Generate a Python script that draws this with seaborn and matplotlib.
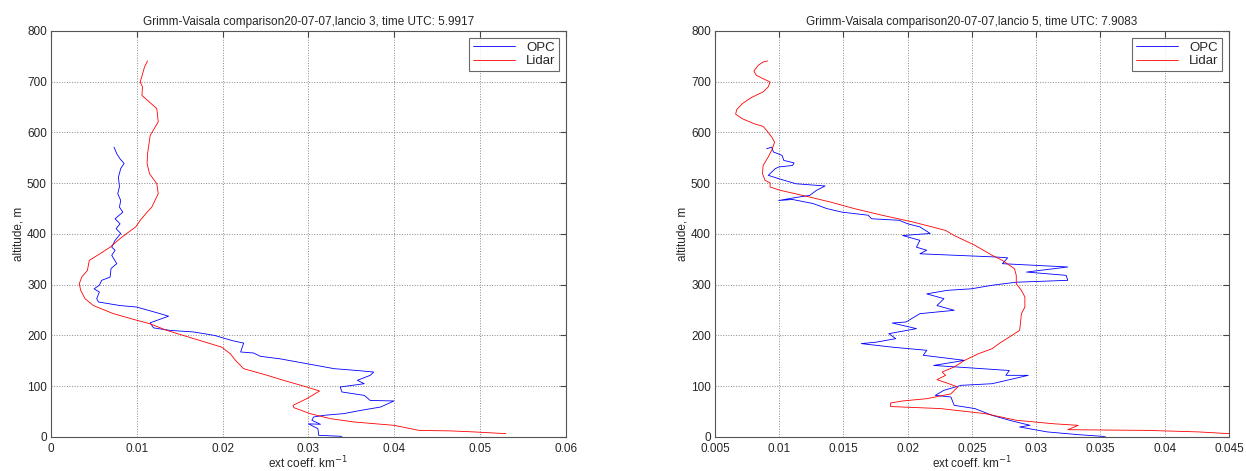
import matplotlib
matplotlib.use("Agg")
import matplotlib.pyplot as plt
import seaborn as sns
import pandas as pd

# launch 3 (left panel)
alt_lidar_3 = [741, 729, 699.5, 690, 673, 647, 621, 594, 558, 539, 519, 499, 479.5, 453, 443, 427,
               414, 401, 391, 374, 361, 348, 328, 315, 302, 289, 272.6, 259, 243, 230, 223, 210,
               194, 177, 164, 151, 134.6, 121.5, 111.7, 98.5, 90.6, 75.5, 62.4, 57.8, 46, 36,
               29.6, 23, 16.4, 13, 12, 10, 6.6]
ext_lidar_3 = [0.01125, 0.0109, 0.0104, 0.01066, 0.0106, 0.01233, 0.0125, 0.01156, 0.01125, 0.0112,
               0.01148, 0.01233, 0.0125, 0.01175, 0.0112, 0.0104, 0.00988, 0.00883, 0.00805, 0.00689,
               0.0057, 0.00447, 0.00424, 0.00358, 0.0033, 0.00346, 0.00397, 0.00494, 0.00728, 0.01,
               0.01156, 0.0135, 0.0166, 0.0199, 0.0209, 0.0215, 0.02245, 0.0252, 0.0271, 0.0298,
               0.0313, 0.0298, 0.0282, 0.0283, 0.0302, 0.0326, 0.0353, 0.03996, 0.0419, 0.0429,
               0.0466, 0.0493, 0.053]
alt_opc_3 = [571, 558, 548, 539, 529, 512, 493, 479.5, 466, 453, 443, 430, 420, 410.5, 401, 387.5,
             374, 368, 358, 341.5, 332, 315, 308.7, 299, 292, 285.7, 272.6, 266, 259, 256, 243,
             238, 225, 215, 210, 207, 200, 190, 185, 167.5, 165.5, 159, 154, 144.5, 134.6, 131,
             128, 121.5, 111.7, 105, 98.5, 88.7, 82, 72, 71, 59, 52.5, 46, 42.7, 39.4, 33, 25,
             26, 16.4, 3.3, 1.3]
ext_opc_3 = [0.00735, 0.00767, 0.00805, 0.00852, 0.00813, 0.00786, 0.00798, 0.00778, 0.00813,
             0.00798, 0.00837, 0.00747, 0.00805, 0.00759, 0.00813, 0.00747, 0.00708, 0.00747,
             0.00708, 0.00767, 0.007, 0.00689, 0.00591, 0.00564, 0.00502, 0.00564, 0.00533,
             0.00553, 0.00805, 0.01, 0.01272, 0.0137, 0.01156, 0.01195, 0.0139, 0.0166, 0.0191,
             0.0211, 0.02245, 0.0221, 0.0236, 0.0244, 0.0267, 0.0298, 0.033, 0.0357, 0.0376,
             0.0372, 0.0357, 0.0365, 0.0337, 0.0339, 0.0365, 0.0372, 0.03996, 0.0384, 0.0361,
             0.0341, 0.0318, 0.0306, 0.0304, 0.0314, 0.03, 0.0311, 0.0312, 0.0339]

# launch 5 (right panel)
alt_lidar_5 = [741, 739, 732, 721, 712.6, 706, 699.5, 690, 680, 668.6, 657, 645, 636, 627, 617, 612,
               604, 591, 581, 565, 552, 535, 519, 506, 500.5, 492.6, 486, 476, 463, 450, 437,
               423.6, 415, 407, 397, 377.7, 358, 348, 331.7, 318.5, 302, 289, 276, 256, 243, 223,
               210, 197, 184, 174, 164, 151, 138, 128, 121.5, 113, 106, 98.5, 85, 75.5, 71, 67,
               60, 56, 46, 33, 26, 23, 14.4, 13, 10, 6.6]
ext_lidar_5 = [0.0091, 0.00875, 0.00835, 0.00803, 0.00822, 0.00875, 0.00929, 0.00915, 0.00875,
               0.00781, 0.00714, 0.00669, 0.00661, 0.00714, 0.00808, 0.00875, 0.00902, 0.00942,
               0.00964, 0.00942, 0.00915, 0.00875, 0.0087, 0.00889, 0.00929, 0.00929, 0.01009,
               0.01183, 0.01398, 0.01585, 0.018, 0.02041, 0.02175, 0.02295, 0.02362, 0.02523,
               0.02657, 0.02737, 0.02831, 0.02845, 0.02845, 0.02885, 0.02912, 0.02912, 0.02885,
               0.02877, 0.02871, 0.02791, 0.02711, 0.02657, 0.0255, 0.02443, 0.02362, 0.02268,
               0.02295, 0.02228, 0.02309, 0.02389, 0.02336, 0.02148, 0.0196, 0.01867, 0.01867,
               0.02255, 0.02603, 0.02845, 0.03139, 0.03327, 0.03247, 0.03863, 0.04265, 0.045]
alt_opc_5 = [568, 571, 561.6, 555, 545, 540, 535, 532, 528.7, 515.6, 509, 499, 494.6, 486, 476,
             473, 466, 468, 460, 450, 443, 437, 430, 427, 420, 414, 401, 397, 387.5, 374, 368,
             361, 354.7, 353, 341.5, 335, 325, 318.5, 308.7, 305, 299, 292, 289, 282, 272.6,
             259, 249.6, 243, 226.6, 224.6, 213.5, 203.6, 193.8, 187, 184, 177, 170.8, 161, 151,
             141, 131, 121.5, 121.5, 105, 101.8, 92, 82, 78.8, 62.4, 56, 42.7, 33, 23, 19.7, 10,
             4.6, 1.3, 0]
ext_opc_5 = [0.00902, 0.00942, 0.00955, 0.01022, 0.01036, 0.01116, 0.01103, 0.00996, 0.00969,
             0.00915, 0.00996, 0.0113, 0.01357, 0.0129, 0.01237, 0.01156, 0.00996, 0.01103,
             0.01264, 0.01371, 0.01491, 0.01692, 0.01719, 0.01934, 0.02001, 0.02095, 0.02175,
             0.01961, 0.02095, 0.02068, 0.02148, 0.02095, 0.02684, 0.02778, 0.02737, 0.03246,
             0.02925, 0.03233, 0.03246, 0.02845, 0.02657, 0.02496, 0.02309, 0.02148, 0.02282,
             0.02228, 0.02362, 0.02095, 0.01987, 0.0188, 0.02068, 0.01853, 0.01907, 0.01759,
             0.01639, 0.0188, 0.02148, 0.02121, 0.02443, 0.02202, 0.02791, 0.02764, 0.02938,
             0.02657, 0.02416, 0.02282, 0.02215, 0.02336, 0.02362, 0.02523, 0.02657, 0.02791,
             0.02952, 0.02871, 0.03086, 0.03327, 0.03514, 0.03541]

titles = ["Grimm-Vaisala comparison20-07-07,lancio 3, time UTC: 5.9917",
          "Grimm-Vaisala comparison20-07-07,lancio 5, time UTC: 7.9083"]
xlims = [(0, 0.06), (0.005, 0.045)]
xticks = [[0, 0.01, 0.02, 0.03, 0.04, 0.05, 0.06],
          [0.005, 0.01, 0.015, 0.02, 0.025, 0.03, 0.035, 0.04, 0.045]]
xticklabels = [["0", "0.01", "0.02", "0.03", "0.04", "0.05", "0.06"],
               ["0.005", "0.01", "0.015", "0.02", "0.025", "0.03", "0.035", "0.04", "0.045"]]
yticks = [0, 100, 200, 300, 400, 500, 600, 700, 800]


def make_df(ext_opc, alt_opc, ext_lidar, alt_lidar):
    opc = pd.DataFrame({"ext": ext_opc, "alt": alt_opc, "src": "OPC"})
    lid = pd.DataFrame({"ext": ext_lidar, "alt": alt_lidar, "src": "Lidar"})
    return pd.concat([opc, lid], ignore_index=True)


frames = [make_df(ext_opc_3, alt_opc_3, ext_lidar_3, alt_lidar_3),
          make_df(ext_opc_5, alt_opc_5, ext_lidar_5, alt_lidar_5)]

sns.set_style("white")
plt.rcParams["font.family"] = ["Liberation Sans", "DejaVu Sans"]

fig = plt.figure(figsize=(12.46, 4.71), dpi=100)
ax1 = fig.add_axes([0.0409, 0.0722, 0.4133, 0.862])
ax2 = fig.add_axes([0.5738, 0.0722, 0.4125, 0.862])

for i, ax in enumerate([ax1, ax2]):
    sns.lineplot(data=frames[i], x="ext", y="alt", hue="src", sort=False, estimator=None,
                 palette={"OPC": "#0000ff", "Lidar": "#ff0000"}, linewidth=0.6, ax=ax)
    ax.set_xlim(*xlims[i])
    ax.set_ylim(0, 800)
    ax.set_xticks(xticks[i])
    ax.set_xticklabels(xticklabels[i])
    ax.set_yticks(yticks)
    ax.grid(True, linestyle=":", color="#888888", linewidth=0.7)
    ax.tick_params(direction="in", top=True, right=True, labelsize=8.5, length=4,
                   color="#444444")
    ax.tick_params(axis="x", pad=4)
    ax.tick_params(axis="y", pad=3)
    for s in ax.spines.values():
        s.set_color("#555555")
        s.set_linewidth(0.8)
    ax.set_title(titles[i], fontsize=8.5, pad=4)
    ax.set_xlabel("ext coeff. km$^{-1}$", fontsize=8.5, labelpad=0)
    ax.set_ylabel("altitude, m", fontsize=8.5, labelpad=2)
    leg = ax.legend(loc="upper right", fontsize=9.5, frameon=True, fancybox=False,
                    edgecolor="#444444", handlelength=3.2, borderaxespad=0.5,
                    labelspacing=0.1, borderpad=0.3)
    leg.get_frame().set_linewidth(0.8)

fig.savefig("out.png", dpi=100)
